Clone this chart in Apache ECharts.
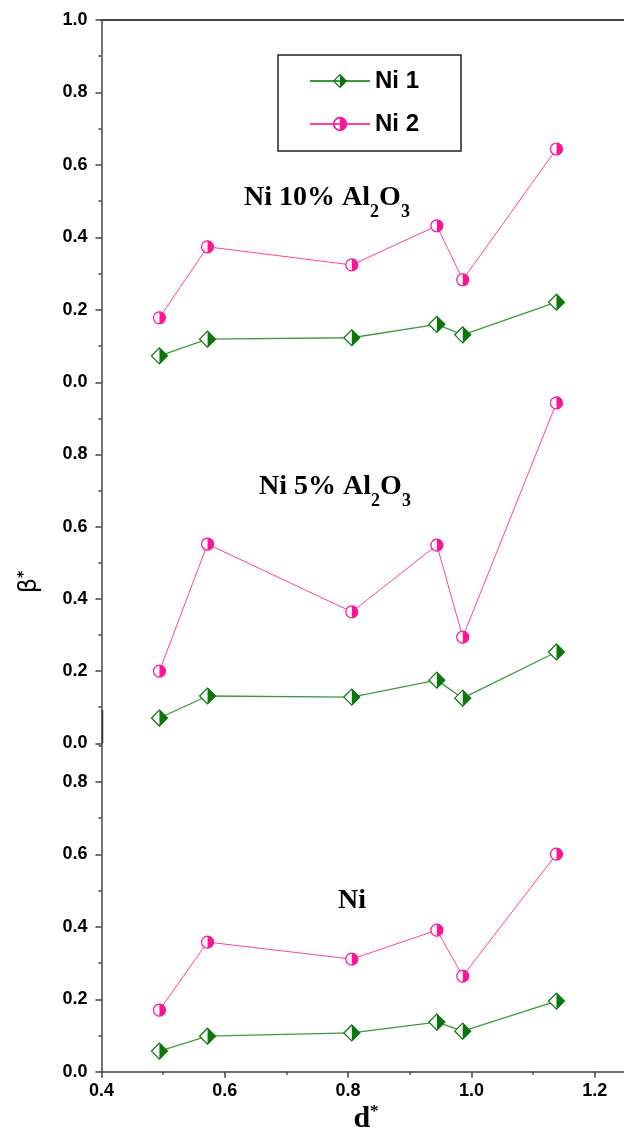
<!DOCTYPE html>
<html>
<head>
<meta charset="utf-8">
<script src="https://cdn.jsdelivr.net/npm/echarts@6/dist/echarts.min.js"></script>
<style>
  html, body { margin: 0; padding: 0; background: #ffffff; }
  #chart { width: 624px; height: 1138px; }
</style>
</head>
<body>
<div id="chart"></div>
<script>
// Reduced particle size d* (shared x values)
const dStar = [0.494, 0.572, 0.806, 0.944, 0.986, 1.138];

// beta* for each sample, top panel to bottom panel
const ni1Al10 = [0.073, 0.119, 0.123, 0.160, 0.131, 0.221];
const ni2Al10 = [0.178, 0.374, 0.324, 0.432, 0.283, 0.644];
const ni1Al5  = [0.070, 0.131, 0.128, 0.175, 0.125, 0.253];
const ni2Al5  = [0.200, 0.552, 0.364, 0.549, 0.294, 0.943];
const ni1Pure = [0.057, 0.098, 0.107, 0.137, 0.112, 0.195];
const ni2Pure = [0.170, 0.358, 0.311, 0.391, 0.264, 0.601];

const seriesNames = ['Ni 1', 'Ni 2'];
const panelLabels = ['{m|Ni 10% Al}{s|2}{m|O}{s|3}', '{m|Ni 5% Al}{s|2}{m|O}{s|3}', '{m|Ni}'];
const yMaxes = [1.0, 1.0, 0.907];

const GREEN_LINE = '#3b9b3b', GREEN_MARK = '#0b760b';
const PINK_LINE = '#ff40a0', PINK_MARK = '#ff1493';
const AXIS = '#444444';

// half-filled marker shapes: outline ring plus filled right half
const DIAMOND_HALF = 'path://M10,0L20,10L10,20L0,10Z M10,2.2L2.2,10L10,17.8L17.8,10Z M10,0L20,10L10,20Z';
const DIAMOND_RIGHT = 'path://M0,0L10,10L0,20Z';
const CIRCLE_HALF = 'path://M10,0A10,10,0,1,1,10,20A10,10,0,1,1,10,0Z M10,2.4A7.6,7.6,0,1,0,10,17.6A7.6,7.6,0,1,0,10,2.4Z M10,0A10,10,0,0,1,10,20Z';
const CIRCLE_RIGHT = 'path://M0,0A10,10,0,0,1,0,20Z';

const panels = [
  { ni1: ni1Al10, ni2: ni2Al10 },
  { ni1: ni1Al5, ni2: ni2Al5 },
  { ni1: ni1Pure, ni2: ni2Pure }
];

const X0 = 101.5, PX_PER_UNIT_X = 616.5;
const grids = [
  { left: X0, width: 0.9 * PX_PER_UNIT_X, top: 20, height: 362.3, outerBoundsMode: 'none' },
  { left: X0, width: 0.9 * PX_PER_UNIT_X, top: 382.3, height: 361, outerBoundsMode: 'none' },
  { left: X0, width: 0.9 * PX_PER_UNIT_X, top: 743.3, height: 328.4, outerBoundsMode: 'none' }
];

const labelFont = { fontFamily: 'Liberation Sans, Arial, sans-serif', fontWeight: 'bold', fontSize: 18, color: '#000' };

function yAxisFor(i) {
  const last = i === 2;
  return {
    type: 'value', gridIndex: i, min: 0, max: yMaxes[i], interval: 0.2,
    axisLine: { show: true, onZero: false, lineStyle: { color: AXIS, width: 1.5 } },
    axisTick: { show: true, inside: false, length: 6, lineStyle: { color: AXIS, width: 1.5 } },
    minorTick: { show: !last, splitNumber: 2, length: 3, lineStyle: { color: AXIS, width: 1.5 } },
    splitLine: { show: false },
    axisLabel: Object.assign({
      margin: 14,
      showMaxLabel: i === 0,
      formatter: v => v.toFixed(1)
    }, labelFont)
  };
}

const yAxes = [yAxisFor(0), yAxisFor(1), yAxisFor(2),
  // minor ticks of the bottom panel, every 0.1
  {
    type: 'value', gridIndex: 2, position: 'left', min: 0, max: yMaxes[2], interval: 0.1,
    axisLine: { show: false }, axisLabel: { show: false }, splitLine: { show: false },
    axisTick: { show: true, length: 3, lineStyle: { color: AXIS, width: 1.5 } }
  }
];

const xAxes = [
  {
    type: 'value', gridIndex: 0, position: 'top', min: 0.4, max: 1.3,
    axisLine: { show: true, onZero: false, lineStyle: { color: AXIS, width: 2 } },
    axisTick: { show: false }, axisLabel: { show: false }, splitLine: { show: false }
  },
  { type: 'value', gridIndex: 1, min: 0.4, max: 1.3, show: false },
  {
    type: 'value', gridIndex: 2, position: 'bottom', min: 0.4, max: 1.3, interval: 0.2,
    axisLine: { show: true, onZero: false, lineStyle: { color: AXIS, width: 1.5 } },
    axisTick: { show: true, length: 6, lineStyle: { color: AXIS, width: 1.5 } },
    minorTick: { show: true, splitNumber: 2, length: 3, lineStyle: { color: AXIS, width: 1.5 } },
    splitLine: { show: false },
    axisLabel: Object.assign({ margin: 10, showMaxLabel: false, formatter: v => v.toFixed(1) }, labelFont)
  }
];

function pairs(vals) { return dStar.map((x, k) => [x, vals[k]]); }

const series = [];
panels.forEach((p, i) => {
  [
    { name: seriesNames[0], vals: p.ni1, line: GREEN_LINE, mark: GREEN_MARK, lw: 1.3,
      full: DIAMOND_HALF, base: 'diamond', right: DIAMOND_RIGHT, size: [16, 16] },
    { name: seriesNames[1], vals: p.ni2, line: PINK_LINE, mark: PINK_MARK, lw: 1,
      full: CIRCLE_HALF, base: 'circle', right: CIRCLE_RIGHT, size: [12, 12] }
  ].forEach(s => {
    const common = { type: 'line', xAxisIndex: i, yAxisIndex: i, data: pairs(s.vals), silent: true, animation: false };
    // connecting line (also supplies the legend icon)
    series.push(Object.assign({}, common, {
      name: s.name, z: 2, symbol: s.full, symbolSize: s.size,
      lineStyle: { color: s.line, width: s.lw },
      itemStyle: { color: s.mark }
    }));
    // hollow marker body
    series.push(Object.assign({}, common, {
      z: 3, symbol: s.base, symbolSize: s.size, showAllSymbol: true,
      lineStyle: { width: 0, opacity: 0 },
      itemStyle: { color: '#ffffff', borderColor: s.mark, borderWidth: 1.2 }
    }));
    // filled right half
    series.push(Object.assign({}, common, {
      z: 4, symbol: s.right, symbolSize: [s.size[0] / 2, s.size[1]], symbolOffset: [s.size[0] / 4, 0],
      lineStyle: { width: 0, opacity: 0 },
      itemStyle: { color: s.mark }
    }));
  });
});

const serif = 'Liberation Serif, Times New Roman, serif';
const panelRich = {
  m: { fontFamily: serif, fontWeight: 'bold', fontSize: 28, lineHeight: 52, fill: '#000' },
  s: { fontFamily: serif, fontWeight: 'bold', fontSize: 18, lineHeight: 20, padding: [28, 0, 0, 0], fill: '#000' }
};
const panelLabelPos = [[327, 198], [335, 487], [352, 901]];

const graphics = panelLabels.map((t, i) => ({
  type: 'text', x: panelLabelPos[i][0], y: panelLabelPos[i][1], silent: true,
  style: { text: t, align: 'center', verticalAlign: 'middle', rich: panelRich }
}));

// y-axis title
graphics.push({
  type: 'text', x: 30, y: 582, rotation: Math.PI / 2, silent: true,
  style: {
    text: '{b|β}{s|*}', align: 'center', verticalAlign: 'middle',
    rich: {
      b: { fontFamily: 'DejaVu Sans, sans-serif', fontSize: 24, fill: '#000' },
      s: { fontFamily: 'DejaVu Sans, sans-serif', fontWeight: 'bold', fontSize: 14, padding: [0, 0, 14, 0], fill: '#000' }
    }
  }
});
// x-axis title
graphics.push({
  type: 'text', x: 366, y: 1119, silent: true,
  style: {
    text: '{d|d}{s|*}', align: 'center', verticalAlign: 'middle',
    rich: {
      d: { fontFamily: serif, fontWeight: 'bold', fontSize: 30, fill: '#000' },
      s: { fontFamily: serif, fontWeight: 'bold', fontSize: 17, padding: [0, 0, 15, 0], fill: '#000' }
    }
  }
});
// heavier stretch of the left axis just above the middle panel's baseline
graphics.push({
  type: 'line', silent: true, z: 10,
  shape: { x1: 102.5, y1: 710, x2: 102.5, y2: 743 },
  style: { stroke: '#333333', lineWidth: 1.5 }
});

const chart = echarts.init(document.getElementById('chart'), null, { renderer: 'canvas' });
chart.setOption({
  animation: false,
  backgroundColor: '#ffffff',
  grid: grids,
  xAxis: xAxes,
  yAxis: yAxes,
  legend: {
    data: seriesNames, orient: 'vertical', left: 278, top: 55,
    padding: [14, 42, 15, 31], itemWidth: 60, itemHeight: 18, itemGap: 19,
    borderColor: '#222222', borderWidth: 1.5, selectedMode: false,
    textStyle: { fontFamily: 'Liberation Sans, Arial, sans-serif', fontWeight: 'bold', fontSize: 24, color: '#000' }
  },
  series: series,
  graphic: graphics
});
</script>
</body>
</html>
